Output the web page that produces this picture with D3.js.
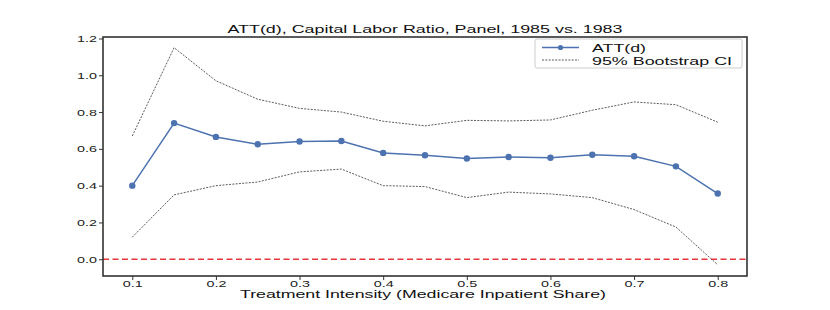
<!DOCTYPE html>
<html>
<head>
<meta charset="utf-8">
<script src="https://cdn.jsdelivr.net/npm/d3@7"></script>
<style>
  body { margin: 0; background: #fff; }
  text { font-family: "Liberation Sans", Arial, sans-serif; }
</style>
</head>
<body>
<div id="chart"></div>
<script>
const dose = [0.1, 0.15, 0.2, 0.25, 0.3, 0.35, 0.4, 0.45, 0.5, 0.55, 0.6, 0.65, 0.7, 0.75, 0.8];
const att = [0.40, 0.74, 0.665, 0.625, 0.64, 0.643, 0.578, 0.565, 0.548, 0.556, 0.552, 0.568, 0.56, 0.505, 0.357];
const ciUpper = [0.67, 1.15, 0.97, 0.87, 0.82, 0.80, 0.75, 0.725, 0.755, 0.752, 0.757, 0.81, 0.855, 0.84, 0.745];
const ciLower = [0.12, 0.35, 0.40, 0.42, 0.475, 0.49, 0.40, 0.395, 0.335, 0.365, 0.355, 0.335, 0.27, 0.175, -0.03];
const xTicks = [0.1, 0.2, 0.3, 0.4, 0.5, 0.6, 0.7, 0.8];
const yTicks = [0.0, 0.2, 0.4, 0.6, 0.8, 1.0, 1.2];

const width = 830, height = 310;
const margin = { top: 37, right: 83, bottom: 34, left: 103 };

const svg = d3.select("#chart").append("svg")
    .attr("width", width)
    .attr("height", height);

const x = d3.scaleLinear()
    .domain([0.065, 0.835])
    .range([margin.left, width - margin.right]);

const y = d3.scaleLinear()
    .domain([-0.091, 1.208])
    .range([height - margin.bottom, margin.top]);

// the reference text is drawn wide, so stretch each label to its measured width
function widen(sel, w) {
    sel.attr("textLength", w).attr("lengthAdjust", "spacingAndGlyphs");
}

// title
svg.append("text")
    .attr("x", 425)
    .attr("y", 33)
    .attr("text-anchor", "middle")
    .attr("font-size", 11.2)
    .attr("fill", "#111")
    .text("ATT(d), Capital Labor Ratio, Panel, 1985 vs. 1983")
    .call(widen, 395);

// zero reference line
svg.append("line")
    .attr("x1", margin.left).attr("x2", width - margin.right)
    .attr("y1", y(0)).attr("y2", y(0))
    .attr("stroke", "#e8373a")
    .attr("stroke-width", 1.3)
    .attr("stroke-dasharray", "6,3.5");

const line = d3.line().x((d, i) => x(dose[i])).y(d => y(d));

// CI lines
[ciUpper, ciLower].forEach(ci => {
    svg.append("path")
        .datum(ci)
        .attr("d", line)
        .attr("fill", "none")
        .attr("stroke", "#333")
        .attr("stroke-width", 0.8)
        .attr("stroke-dasharray", "2,1.3");
});

// ATT line
svg.append("path")
    .datum(att)
    .attr("d", line)
    .attr("fill", "none")
    .attr("stroke", "#4c72b0")
    .attr("stroke-width", 1.5);

svg.selectAll("circle.att")
    .data(att)
    .enter()
    .append("circle")
    .attr("class", "att")
    .attr("cx", (d, i) => x(dose[i]))
    .attr("cy", d => y(d))
    .attr("r", 3.2)
    .attr("fill", "#4c72b0");

// axes
const xAxis = svg.append("g")
    .attr("transform", `translate(0, ${height - margin.bottom})`)
    .call(d3.axisBottom(x).tickValues(xTicks).tickFormat(d3.format(".1f")).tickSize(4).tickPadding(0.5).tickSizeOuter(0));
const yAxis = svg.append("g")
    .attr("transform", `translate(${margin.left}, 0)`)
    .call(d3.axisLeft(y).tickValues(yTicks).tickFormat(d3.format(".1f")).tickSize(4).tickPadding(2).tickSizeOuter(0));

[xAxis, yAxis].forEach(g => {
    g.select(".domain").remove();
    g.selectAll("line").attr("stroke", "#333").attr("stroke-width", 1);
    g.selectAll("text").attr("font-size", 9.2).attr("fill", "#222")
        .attr("font-family", "'Liberation Sans', Arial, sans-serif")
        .call(widen, 20);
});

// frame
svg.append("rect")
    .attr("x", margin.left).attr("y", margin.top)
    .attr("width", width - margin.left - margin.right)
    .attr("height", height - margin.top - margin.bottom)
    .attr("fill", "none")
    .attr("stroke", "#333")
    .attr("stroke-width", 1.6);

// x label
svg.append("text")
    .attr("x", 423)
    .attr("y", 297.5)
    .attr("text-anchor", "middle")
    .attr("font-size", 11)
    .attr("fill", "#111")
    .text("Treatment Intensity (Medicare Inpatient Share)")
    .call(widen, 366);

// legend
const lg = svg.append("g").attr("transform", "translate(535, 39)");
lg.append("rect")
    .attr("width", 207).attr("height", 29)
    .attr("rx", 2)
    .attr("fill", "#fff").attr("fill-opacity", 0.8)
    .attr("stroke", "#ccc");
lg.append("line").attr("x1", 7).attr("x2", 44).attr("y1", 8.5).attr("y2", 8.5)
    .attr("stroke", "#4c72b0").attr("stroke-width", 1.5);
lg.append("circle").attr("cx", 25.5).attr("cy", 8.5).attr("r", 2.6).attr("fill", "#4c72b0");
lg.append("line").attr("x1", 7).attr("x2", 44).attr("y1", 21).attr("y2", 21)
    .attr("stroke", "#333").attr("stroke-width", 0.8).attr("stroke-dasharray", "2,1.3");
lg.append("text").attr("x", 57).attr("y", 12.5).attr("font-size", 11).attr("fill", "#111")
    .text("ATT(d)").call(widen, 54);
lg.append("text").attr("x", 57).attr("y", 25.5).attr("font-size", 11).attr("fill", "#111")
    .text("95% Bootstrap CI").call(widen, 140);
</script>
</body>
</html>
